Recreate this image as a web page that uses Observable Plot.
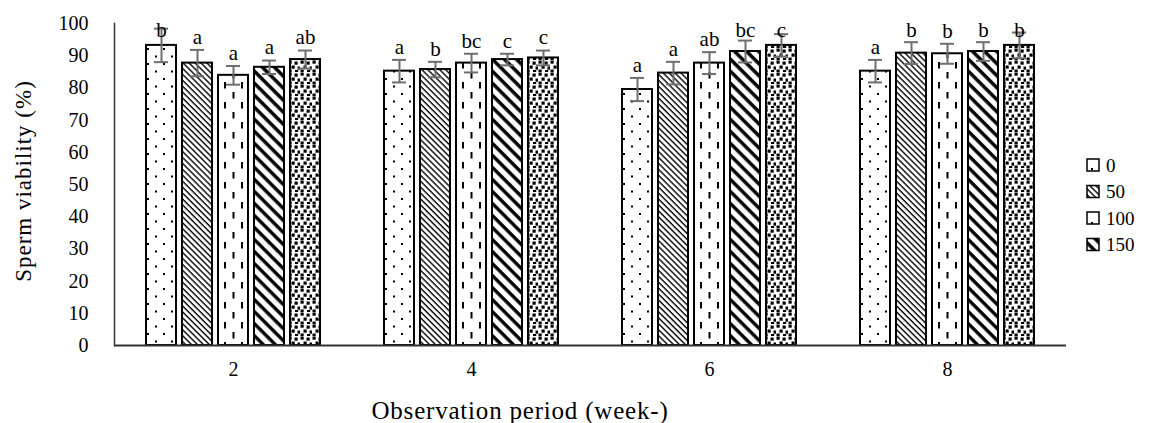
<!DOCTYPE html>
<html>
<head>
<meta charset="utf-8">
<script src="https://cdn.jsdelivr.net/npm/d3@7"></script>
<script src="https://cdn.jsdelivr.net/npm/@observablehq/plot@0.6"></script>
<style>
  html, body { margin: 0; padding: 0; background: white; }
</style>
</head>
<body>
<div id="chart"></div>
<script>
const weeks = [2, 4, 6, 8];
const doses = ["0", "50", "100", "150", "200"];
const legendDoses = ["0", "50", "100", "150"];
const yTicks = [0, 10, 20, 30, 40, 50, 60, 70, 80, 90, 100];
const means = [
  [93.2, 87.7, 83.9, 86.4, 88.8],
  [85.2, 85.7, 87.7, 88.8, 89.3],
  [79.5, 84.6, 87.7, 91.3, 93.2],
  [85.2, 90.8, 90.6, 91.3, 93.2]
];
const errs = [
  [5.2, 4.1, 2.9, 2.1, 2.8],
  [3.5, 2.4, 2.9, 1.8, 2.3],
  [3.6, 3.5, 3.4, 3.4, 3.5],
  [3.5, 3.4, 3.1, 2.9, 4.0]
];
const letters = [
  ["b", "a", "a", "a", "ab"],
  ["a", "b", "bc", "c", "c"],
  ["a", "a", "ab", "bc", "c"],
  ["a", "b", "b", "b", "b"]
];
const xTitle = "Observation period (week-)";
const yTitle = "Sperm viability (%)";

const rows = [];
weeks.forEach((w, i) => doses.forEach((d, j) => rows.push({
  week: w, dose: d, k: j, mean: means[i][j], err: errs[i][j], letter: letters[i][j],
  lo: means[i][j] - errs[i][j], hi: means[i][j] + errs[i][j],
  ly: Math.min(means[i][j] + errs[i][j] + 4, 98)
})));

const font = "'Liberation Serif', 'Times New Roman', serif";

const barMarks = doses.map((d, j) => Plot.barY(rows.filter(r => r.dose === d), {
  fx: "week", x: "dose", y: "mean", fill: `url(#pat${j})`, stroke: "black", strokeWidth: 2
}));

const svg = Plot.plot({
  width: 1149, height: 423,
  marginLeft: 114, marginRight: 83, marginTop: 23, marginBottom: 78,
  style: { fontFamily: font, fontSize: "20px", background: "white", color: "black" },
  fx: { domain: weeks, padding: 0, label: null },
  x: { domain: doses, paddingInner: 0.18, paddingOuter: 0.85, axis: null },
  y: { domain: [0, 100] },
  marks: [
    ...barMarks,
    Plot.ruleX(rows, { fx: "week", x: "dose", y1: "lo", y2: "hi", stroke: "#6e6e6e", strokeWidth: 2 }),
    Plot.tickY(rows, { fx: "week", x: "dose", y: "hi", stroke: "#6e6e6e", strokeWidth: 2, insetLeft: 8, insetRight: 8 }),
    Plot.tickY(rows, { fx: "week", x: "dose", y: "lo", stroke: "#6e6e6e", strokeWidth: 2, insetLeft: 8, insetRight: 8 }),
    Plot.text(rows, { fx: "week", x: "dose", y: "ly", text: "letter", fontSize: 21, fill: "black", lineAnchor: "middle" }),
    Plot.ruleY([0], { stroke: "#333", strokeWidth: 2 }),
    Plot.frame({ anchor: "left", facetAnchor: "left", stroke: "#333", strokeWidth: 1.5 }),
    Plot.axisY({ ticks: yTicks, tickSize: 0, tickPadding: 26, label: null, fontSize: 20 }),
    Plot.axisFx({ anchor: "bottom", tickSize: 0, tickPadding: 16, label: null, fontSize: 20 })
  ]
});

const root = d3.select(svg);
const defs = root.insert("defs", ":first-child");

// pattern 0: staggered dots
let p = defs.append("pattern").attr("id", "pat0").attr("patternUnits", "userSpaceOnUse")
  .attr("width", 16).attr("height", 15);
p.append("rect").attr("width", 16).attr("height", 15).attr("fill", "white");
p.append("rect").attr("x", 3).attr("y", 3).attr("width", 2).attr("height", 2).attr("fill", "black");
p.append("rect").attr("x", 11).attr("y", 10.5).attr("width", 2).attr("height", 2).attr("fill", "black");

// pattern 1: thin diagonal lines
p = defs.append("pattern").attr("id", "pat1").attr("patternUnits", "userSpaceOnUse")
  .attr("width", 4.2).attr("height", 10).attr("patternTransform", "rotate(-45)");
p.append("rect").attr("width", 4.2).attr("height", 10).attr("fill", "white");
p.append("line").attr("x1", 1).attr("x2", 1).attr("y1", 0).attr("y2", 10).attr("stroke", "black").attr("stroke-width", 1.4);

// pattern 2: dashed vertical lines
p = defs.append("pattern").attr("id", "pat2").attr("patternUnits", "userSpaceOnUse")
  .attr("width", 17).attr("height", 20);
p.append("rect").attr("width", 17).attr("height", 20).attr("fill", "white");
p.append("rect").attr("x", 3).attr("y", 2).attr("width", 2).attr("height", 6.5).attr("fill", "black");
p.append("rect").attr("x", 11.5).attr("y", 12).attr("width", 2).attr("height", 6.5).attr("fill", "black");

// pattern 3: thick diagonal lines
p = defs.append("pattern").attr("id", "pat3").attr("patternUnits", "userSpaceOnUse")
  .attr("width", 8.5).attr("height", 10).attr("patternTransform", "rotate(-45)");
p.append("rect").attr("width", 8.5).attr("height", 10).attr("fill", "white");
p.append("line").attr("x1", 2).attr("x2", 2).attr("y1", 0).attr("y2", 10).attr("stroke", "black").attr("stroke-width", 3.4);

// pattern 4: scattered squares
p = defs.append("pattern").attr("id", "pat4").attr("patternUnits", "userSpaceOnUse")
  .attr("width", 12).attr("height", 12);
p.append("rect").attr("width", 12).attr("height", 12).attr("fill", "white");
[[0.5, 0.5], [6.5, 1.5], [3.5, 5.5], [9.5, 6.5], [0.5, 9.5], [7, 10]].forEach(([x, y]) =>
  p.append("rect").attr("x", x).attr("y", y).attr("width", 3.2).attr("height", 3.2).attr("fill", "black"));

// axis titles
root.append("text").attr("x", 520).attr("y", 410)
  .attr("text-anchor", "middle").attr("dominant-baseline", "central")
  .style("font-family", font).style("font-size", "25px").style("letter-spacing", "0.8px")
  .attr("fill", "black").text(xTitle);
root.append("text").attr("transform", "translate(23,181) rotate(-90)")
  .attr("text-anchor", "middle").attr("dominant-baseline", "central")
  .style("font-family", font).style("font-size", "23px").style("letter-spacing", "1px")
  .attr("fill", "black").text(yTitle);

// legend
const lg = root.append("g").attr("text-anchor", "start");
legendDoses.forEach((d, j) => {
  const cy = 165 + j * 26.5;
  lg.append("rect").attr("x", 1087).attr("y", cy - 6).attr("width", 12).attr("height", 12)
    .attr("fill", `url(#pat${doses.indexOf(d)})`).attr("stroke", "black").attr("stroke-width", 1.5);
  lg.append("text").attr("x", 1106).attr("y", cy).attr("text-anchor", "start").attr("dominant-baseline", "central")
    .style("font-family", font).style("font-size", "19px").attr("fill", "black").text(d);
});

document.getElementById("chart").appendChild(svg);
</script>
</body>
</html>
